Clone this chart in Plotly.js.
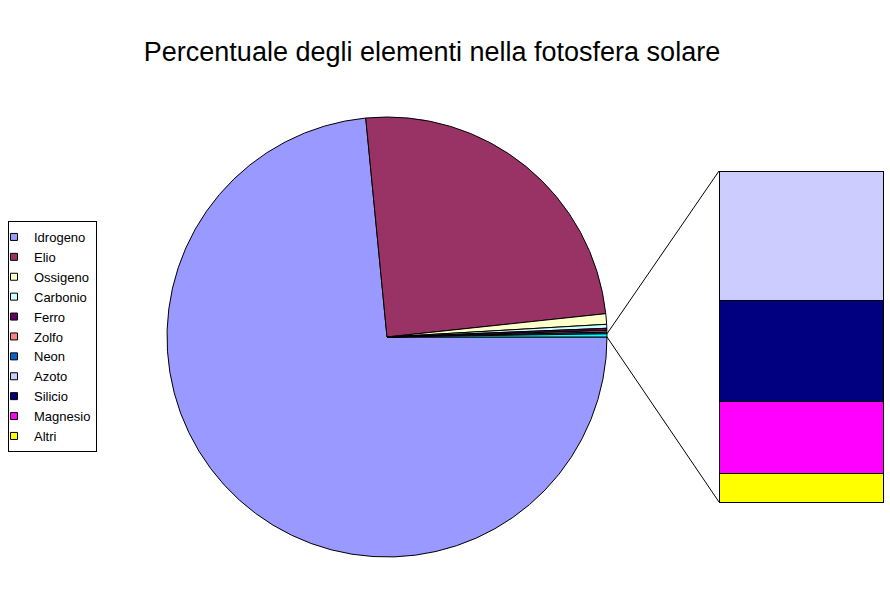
<!DOCTYPE html>
<html>
<head>
<meta charset="utf-8">
<script src="https://cdn.plot.ly/plotly-3.0.1.min.js"></script>
<style>
  html, body { margin: 0; padding: 0; background: #fff; }
  #chart { width: 890px; height: 604px; }
</style>
</head>
<body>
<div id="chart"></div>
<script>
  // ── Dati (percentuali in massa, fotosfera solare) ─────────────────────────
  const mainLabels  = ['Idrogeno', 'Elio', 'Ossigeno', 'Carbonio', 'Ferro', 'Zolfo', 'Neon'];
  const mainValues  = [73.46, 24.85, 0.77, 0.29, 0.16, 0.12, 0.12];
  const minorLabels = ['Azoto', 'Silicio', 'Magnesio', 'Altri'];
  const minorValues = [0.09, 0.07, 0.05, 0.02];

  const mainColors  = ['#9999ff', '#993366', '#ffffcc', '#ccffff', '#660066', '#ff8080', '#0066cc'];
  const minorColors = ['#ccccff', '#000080', '#ff00ff', '#ffff00'];
  const otherColor  = '#00ffff';   // fetta "altri" nella torta

  // ── Geometria ─────────────────────────────────────────────────────────────
  const W = 890, H = 604;
  const PIE_X = [167 / W, 607 / W];
  const PIE_Y = [1 - 557 / H, 1 - 117 / H];
  const PAD   = 3;                               // px attorno alla barra (bordi non tagliati)
  const BAR_PX = { l: 719, r: 883, t: 171, b: 502 };
  const BAR_X = [(BAR_PX.l - PAD) / W, (BAR_PX.r + PAD) / W];
  const BAR_Y = [1 - (BAR_PX.b + PAD) / H, 1 - (BAR_PX.t - PAD) / H];
  const FONT  = 'Liberation Sans, Arial, sans-serif';

  const otherValue = minorValues.reduce((a, b) => a + b, 0);
  const pieValues  = mainValues.concat([otherValue]);
  const total      = pieValues.reduce((a, b) => a + b, 0);

  // range degli assi della barra allargati del margine PAD
  const bw = BAR_PX.r - BAR_PX.l, bh = BAR_PX.b - BAR_PX.t;
  const xPad = PAD / bw, yPad = PAD / bh * otherValue;

  // ── Tracce ────────────────────────────────────────────────────────────────
  const traces = [];

  traces.push({
    type: 'pie',
    labels: mainLabels.concat(['Altro']),
    values: pieValues,
    sort: false,
    direction: 'clockwise',
    rotation: 90,
    textinfo: 'none',
    hoverinfo: 'skip',
    showlegend: false,
    domain: { x: PIE_X, y: PIE_Y },
    marker: { colors: mainColors.concat([otherColor]), line: { color: '#000', width: 1 } },
  });

  // barra impilata (asse y rovesciato: la prima serie sta in alto)
  minorLabels.forEach((name, i) => {
    traces.push({
      type: 'bar', name,
      x: [0], y: [minorValues[i]],
      width: 1,
      xaxis: 'x2', yaxis: 'y2',
      marker: { color: minorColors[i], line: { color: '#000', width: 1 } },
      showlegend: false,
      hoverinfo: 'skip',
    });
  });

  // voci di legenda (tracce senza punti visibili, marcatore quadrato)
  const legColors = mainColors.concat(minorColors);
  mainLabels.concat(minorLabels).forEach((name, i) => {
    traces.push({
      type: 'scatter', mode: 'markers', name,
      x: [null], y: [null],
      xaxis: 'x2', yaxis: 'y2',
      marker: { symbol: 'square', size: 7, color: legColors[i],
                line: { color: '#000', width: 1 } },
      showlegend: true,
      hoverinfo: 'skip',
    });
  });

  // ── Linee di collegamento torta → barra ───────────────────────────────────
  const cx = (PIE_X[0] + PIE_X[1]) / 2 * W;
  const cy = (1 - (PIE_Y[0] + PIE_Y[1]) / 2) * H;
  const r  = (PIE_X[1] - PIE_X[0]) * W / 2;
  const a0 = (90 - otherValue / total * 360) * Math.PI / 180;
  const a1 = 90 * Math.PI / 180;
  function edge(a) {
    return { x: (cx + r * Math.sin(a)) / W, y: 1 - (cy - r * Math.cos(a)) / H };
  }
  const p0 = edge(a0), p1 = edge(a1);

  const shapes = [
    { type: 'line', xref: 'paper', yref: 'paper', x0: p0.x, y0: p0.y,
      x1: BAR_PX.l / W, y1: 1 - BAR_PX.t / H, line: { color: '#000', width: 1 } },
    { type: 'line', xref: 'paper', yref: 'paper', x0: p1.x, y0: p1.y,
      x1: BAR_PX.l / W, y1: 1 - BAR_PX.b / H, line: { color: '#000', width: 1 } },
  ];

  const layout = {
    width: W, height: H,
    margin: { l: 0, r: 0, t: 0, b: 0 },
    paper_bgcolor: '#fff',
    plot_bgcolor: 'rgba(0,0,0,0)',
    font: { family: FONT, size: 12, color: '#000' },
    title: {
      text: 'Percentuale degli elementi nella fotosfera solare',
      font: { family: FONT, size: 27, color: '#000' },
      x: 432 / W, xanchor: 'center', xref: 'paper',
      y: 1 - 52 / H, yanchor: 'middle', yref: 'paper',
    },
    barmode: 'stack',
    bargap: 0,
    xaxis2: { domain: BAR_X, range: [-0.5 - xPad, 0.5 + xPad], visible: false, fixedrange: true },
    yaxis2: { domain: BAR_Y, range: [otherValue + yPad, -yPad], visible: false,
              fixedrange: true, anchor: 'x2' },
    showlegend: true,
    legend: {
      x: 8 / W, y: 1 - 221 / H, xanchor: 'left', yanchor: 'top',
      traceorder: 'normal',
      indentation: -15,
      bgcolor: '#fff', bordercolor: '#000', borderwidth: 1,
      font: { family: FONT, size: 13, color: '#000' },
      itemclick: false, itemdoubleclick: false,
    },
    shapes,
    hovermode: false,
  };

  Plotly.newPlot('chart', traces, layout, { displayModeBar: false, staticPlot: true });
</script>
</body>
</html>
